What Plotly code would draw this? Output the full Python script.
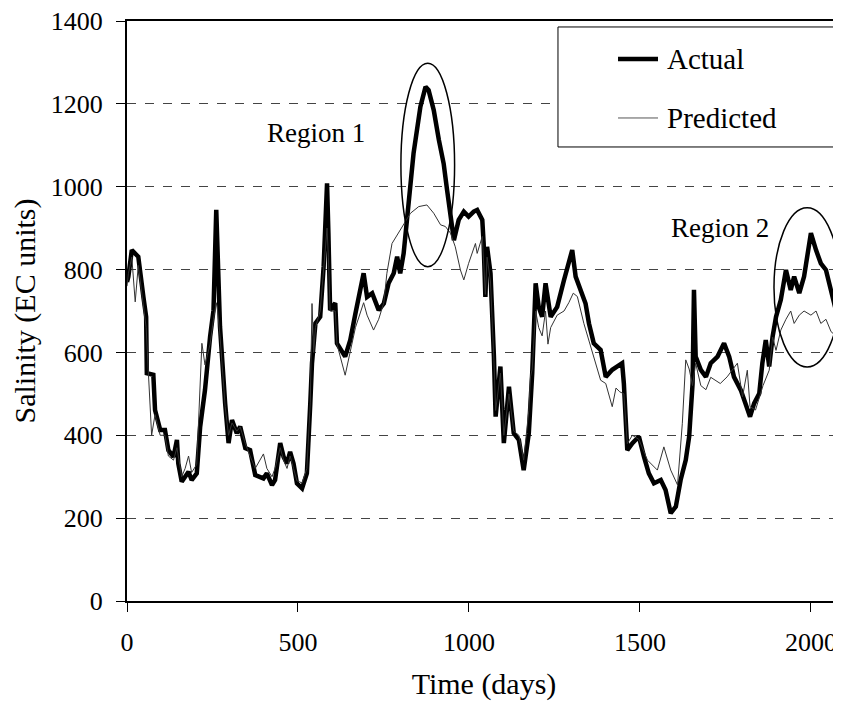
import plotly.graph_objects as go

# Actual salinity (day, EC units)
actual_days = [0, 4, 14, 33, 48, 56, 58, 77, 82, 97, 111, 121, 136, 146, 150, 160, 170, 180, 189, 204,
               214, 228, 243, 253, 261, 265, 272, 287, 297, 307, 321, 331, 346, 360, 375, 399, 409, 424,
               433, 448, 458, 468, 477, 487, 497, 512, 526, 536, 541, 551, 565, 575, 585, 589, 594, 609,
               614, 638, 653, 668, 692, 702, 717, 736, 751, 765, 780, 790, 799, 809, 824, 838, 858, 873,
               882, 897, 912, 926, 936, 946, 956, 970, 985, 999, 1014, 1024, 1039, 1043, 1048, 1053,
               1063, 1073, 1078, 1092, 1102, 1117, 1131, 1146, 1160, 1175, 1185, 1195, 1204, 1214, 1224,
               1239, 1258, 1278, 1292, 1302, 1312, 1327, 1341, 1351, 1365, 1385, 1400, 1419, 1434, 1448,
               1453, 1463, 1478, 1497, 1512, 1526, 1541, 1561, 1575, 1590, 1605, 1619, 1634, 1644, 1654,
               1658, 1663, 1678, 1693, 1707, 1727, 1746, 1761, 1775, 1795, 1810, 1822, 1834, 1849, 1858,
               1868, 1878, 1888, 1898, 1912, 1927, 1941, 1951, 1966, 1980, 2000, 2015, 2029, 2044, 2059,
               2073]
actual_ec = [770, 783, 847, 831, 734, 686, 550, 546, 461, 413, 413, 364, 348, 389, 332, 288, 300, 312, 292, 308,
             421, 509, 638, 702, 944, 847, 662, 477, 381, 437, 405, 421, 369, 364, 304, 296, 308, 280,
             292, 381, 348, 332, 360, 332, 284, 272, 308, 477, 574, 670, 686, 807, 1008, 888, 702, 719,
             622, 590, 630, 694, 791, 734, 743, 702, 718, 767, 791, 831, 791, 839, 952, 1081, 1193, 1241,
             1233, 1185, 1113, 1056, 992, 920, 871, 920, 940, 928, 940, 944, 920, 863, 734, 855,
             791, 590, 445, 566, 381, 517, 405, 389, 316, 405, 550, 767, 710, 686, 767,
             686, 710, 775, 823, 847, 783, 751, 718, 670, 622, 606, 541, 558, 566, 574,
             525, 364, 381, 397, 348, 308, 284, 292, 268, 212, 228, 292, 340, 397, 525,
             751, 590, 558, 541, 574, 590, 622, 590, 541, 509, 477, 445, 477, 501, 574,
             630, 566, 638, 686, 727, 799, 751, 783, 743, 783, 888, 847, 815, 799, 751,
             702]

# Predicted salinity
pred_days = [0, 4, 14, 24, 33, 48, 56, 62, 72, 82, 97, 111, 121, 136, 146, 160, 170, 180, 189, 204,
             214, 219, 228, 243, 253, 261, 265, 272, 287, 297, 307, 321, 331, 346, 360, 375, 399, 409,
             424, 433, 448, 458, 468, 477, 487, 497, 512, 526, 536, 541, 546, 551, 565, 575, 585, 589,
             594, 609, 614, 638, 653, 668, 692, 702, 721, 736, 751, 760, 775, 799, 829, 853, 877, 897,
             917, 931, 946, 960, 975, 985, 999, 1019, 1024, 1039, 1048, 1053, 1063, 1073, 1078, 1092,
             1102, 1117, 1131, 1146, 1160, 1175, 1180, 1185, 1195, 1204, 1214, 1224, 1231, 1239, 1258,
             1278, 1292, 1305, 1317, 1336, 1365, 1385, 1400, 1419, 1430, 1441, 1453, 1463, 1478, 1497,
             1522, 1551, 1570, 1590, 1610, 1624, 1634, 1644, 1654, 1663, 1678, 1693, 1707, 1735, 1755,
             1785, 1800, 1814, 1822, 1838, 1860, 1878, 1888, 1898, 1912, 1927, 1941, 1951, 1966, 1980,
             2000, 2015, 2029, 2044, 2059, 2073]
pred_ec = [760, 790, 830, 722, 810, 720, 660, 560, 400, 450, 400, 400, 350, 340, 370, 300, 320, 350, 310, 330,
           500, 622, 570, 620, 680, 720, 700, 640, 470, 400, 430, 410, 420, 380, 350, 320, 355, 320,
           300, 320, 370, 340, 320, 350, 320, 290, 285, 320, 480, 718, 600, 660, 700, 811, 900, 830,
           700, 700, 620, 545, 600, 660, 720, 690, 654, 680, 720, 791, 863, 895, 936, 952, 956, 936,
           908, 904, 888, 855, 799, 775, 815, 863, 839, 880, 740, 830, 770, 580, 460, 550,
           400, 500, 410, 400, 340, 460, 541, 560, 700, 660, 640, 700, 620, 660, 690,
           700, 720, 743, 735, 670, 590, 533, 525, 469, 514, 505, 500, 380, 400, 390,
           340, 316, 372, 316, 280, 429, 582, 560, 520, 574, 520, 510, 540, 525, 541,
           574, 493, 557, 469, 461, 520, 557, 637, 605, 654, 680, 700, 670, 690, 700,
           690, 700, 670, 680, 650, 640]

y_ticks = [0, 200, 400, 600, 800, 1000, 1200, 1400]
x_ticks = [0, 500, 1000, 1500, 2000]
series_names = ["Actual", "Predicted"]

serif = "Liberation Serif, Times New Roman, serif"

fig = go.Figure()
fig.add_trace(go.Scatter(x=actual_days, y=actual_ec, mode="lines", name=series_names[0],
                         showlegend=False, line=dict(color="black", width=4.5)))
fig.add_trace(go.Scatter(x=pred_days, y=pred_ec, mode="lines", name=series_names[1],
                         showlegend=False, line=dict(color="#333333", width=1)))

# circled regions
fig.add_shape(type="circle", xref="x", yref="y", x0=801, x1=958, y0=807, y1=1298,
              line=dict(color="black", width=1.5))
fig.add_shape(type="circle", xref="x", yref="y", x0=1892, x1=2086, y0=565, y1=949,
              line=dict(color="black", width=1.5))
fig.add_annotation(x=554, y=1130, text="Region 1", showarrow=False,
                   font=dict(size=27, color="black", family=serif))
fig.add_annotation(x=1734, y=900, text="Region 2", showarrow=False,
                   font=dict(size=27, color="black", family=serif))

# legend box drawn by hand, Excel style
fig.add_shape(type="rect", xref="paper", yref="paper", x0=0.6036, x1=0.9958, y0=0.7828, y1=0.9897,
              line=dict(color="black", width=1), fillcolor="white", layer="above")
legend_rows = [(0.9345, 4.5, "black"), (0.8328, 1, "#555555")]
for name, (yy, lw, col) in zip(series_names, legend_rows):
    fig.add_shape(type="line", xref="paper", yref="paper", x0=0.6877, x1=0.7437, y0=yy, y1=yy,
                  line=dict(color=col, width=lw), layer="above")
    fig.add_annotation(xref="paper", yref="paper", x=0.7535, y=yy, text=name, showarrow=False,
                       xanchor="left", yanchor="middle", font=dict(size=29, family=serif, color="black"))

# page body has an 8px margin, so the figure is a bit smaller than the window
fig.update_layout(
    width=833, height=693,
    margin=dict(l=119, r=0, t=13, b=100),
    paper_bgcolor="white", plot_bgcolor="white",
    font=dict(family=serif, color="black", size=26),
    showlegend=False,
    xaxis=dict(range=[0, 2088], tickvals=x_ticks, ticks="outside", ticklen=9,
               tickcolor="black", showline=True, linecolor="black", linewidth=2,
               mirror=True, showgrid=False, zeroline=False, automargin=False,
               ticklabelstandoff=8, ticklabeloverflow="allow",
               title=dict(text="Time (days)", font=dict(size=30), standoff=24)),
    yaxis=dict(range=[0, 1400], tickvals=y_ticks, ticks="outside", ticklen=9,
               tickcolor="black", showline=True, linecolor="black", linewidth=2,
               showgrid=True, gridcolor="#444444", gridwidth=1, griddash="dash",
               zeroline=False, automargin=False, ticklabelstandoff=8,
               ticklabeloverflow="allow",
               title=dict(text="Salinity (EC units)", font=dict(size=30), standoff=10)),
)

fig.write_html("out.html")
